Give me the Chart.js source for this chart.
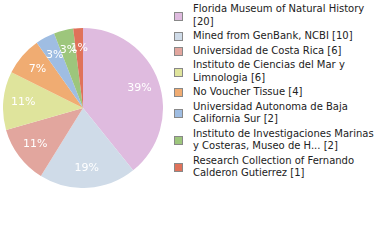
<!DOCTYPE html>
<html>
<head>
<meta charset="utf-8">
<script src="https://cdn.jsdelivr.net/npm/chart.js@4/dist/chart.umd.min.js"></script>
<style>
  body { margin: 0; width: 380px; height: 240px; background: #fff; position: relative; overflow: hidden; font-family: "DejaVu Sans", sans-serif; }
  #pie-wrap { position: absolute; left: 3px; top: 28px; width: 160px; height: 160px; }
  #legend { position: absolute; left: 174px; top: 3px; width: 200px; font-size: 10px; line-height: 12.5px; color: #222; }
  .item { position: relative; padding-left: 19px; margin-bottom: 2px; }
  .sw { position: absolute; left: 0; width: 7px; height: 7px; border: 1px solid #888; top: 50%; margin-top: -4px; }
</style>
</head>
<body>
<div id="pie-wrap"><canvas id="pie"></canvas></div>
<div id="legend"></div>
<script>
/* ── Data ───────────────────────────────────────────────────── */

const labels = [
    'Florida Museum of Natural History',
    'Mined from GenBank, NCBI',
    'Universidad de Costa Rica',
    'Instituto de Ciencias del Mar y Limnologia',
    'No Voucher Tissue',
    'Universidad Autonoma de Baja California Sur',
    'Instituto de Investigaciones Marinas y Costeras, Museo de H...',
    'Research Collection of Fernando Calderon Gutierrez'
];
const counts = [20, 10, 6, 6, 4, 2, 2, 1];
const colors = ['#dfbbdf', '#cfdbe8', '#e2a69e', '#dfe49c', '#f0ac72', '#9fbde2', '#9dc67c', '#e0725a'];

const total = counts.reduce((a, b) => a + b, 0);

/* ── Legend ─────────────────────────────────────────────────── */

function esc(s) {
    const d = document.createElement('div');
    d.textContent = s;
    return d.innerHTML;
}

let html = '';
labels.forEach((l, i) => {
    html += '<div class="item"><span class="sw" style="background:' + colors[i] + '"></span>'
        + esc(l) + ' [' + counts[i] + ']</div>';
});
document.getElementById('legend').innerHTML = html;

/* ── Percent labels ─────────────────────────────────────────── */

const pctLabels = {
    id: 'pctLabels',
    afterDatasetsDraw(chart) {
        const ctx = chart.ctx;
        const meta = chart.getDatasetMeta(0);
        ctx.save();
        ctx.fillStyle = '#fff';
        ctx.font = '11px "DejaVu Sans"';
        ctx.textAlign = 'center';
        ctx.textBaseline = 'middle';
        meta.data.forEach((arc, i) => {
            const p = arc.getProps(['x', 'y', 'startAngle', 'endAngle', 'outerRadius']);
            const mid = (p.startAngle + p.endAngle) / 2;
            const r = p.outerRadius * 0.75;
            const pct = Math.floor(counts[i] / total * 100) + '%';
            ctx.fillText(pct, p.x + Math.cos(mid) * r, p.y + Math.sin(mid) * r);
        });
        ctx.restore();
    }
};

/* ── Chart ──────────────────────────────────────────────────── */

new Chart(document.getElementById('pie'), {
    type: 'pie',
    data: {
        labels: labels,
        datasets: [{
            data: counts,
            backgroundColor: colors,
            borderWidth: 0
        }]
    },
    options: {
        responsive: true,
        maintainAspectRatio: false,
        animation: false,
        plugins: { legend: { display: false }, tooltip: { enabled: false } }
    },
    plugins: [pctLabels]
});
</script>
</body>
</html>
